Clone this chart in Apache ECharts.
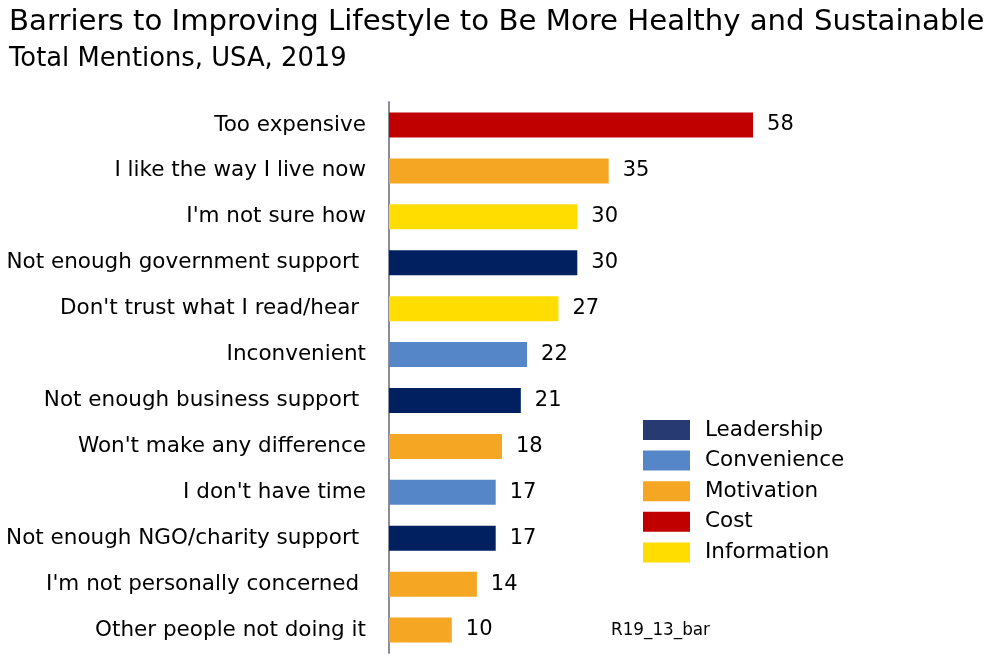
<!DOCTYPE html>
<html><head><meta charset="utf-8">
<script src="https://cdn.jsdelivr.net/npm/echarts@6/dist/echarts.min.js"></script>
<style>html,body{margin:0;padding:0;background:#fff}#c{width:993px;height:656px}</style>
</head><body><div id="c"></div>
<script>
const categories = ["Too expensive","I like the way I live now","I'm not sure how","Not enough government support ","Don't trust what I read/hear ","Inconvenient","Not enough business support ","Won't make any difference","I don't have time","Not enough NGO/charity support ","I'm not personally concerned ","Other people not doing it"];
const values = [58,35,30,30,27,22,21,18,17,17,14,10];
const groups = ["Cost","Motivation","Information","Leadership","Information","Convenience","Leadership","Motivation","Convenience","Leadership","Motivation","Motivation"];
const groupNames = ["Leadership","Convenience","Motivation","Cost","Information"];
const barColors = {Leadership:"#002060",Convenience:"#5587C8",Motivation:"#F5A623",Cost:"#C00000",Information:"#FFDD00"};
const legendColors = {Leadership:"#283A72",Convenience:"#5587C8",Motivation:"#F5A623",Cost:"#C00000",Information:"#FFDD00"};
const FONT = "DejaVu Sans";

const series = groupNames.map(g => ({
  name: g,
  type: 'bar',
  barWidth: 25,
  barGap: '-100%',
  itemStyle: {color: barColors[g]},
  label: {show: true, position: 'right', distance: 14, color: '#000', fontSize: 21, fontFamily: FONT},
  data: values.map((v,i) => groups[i] === g ? v : '-')
}));

const chart = echarts.init(document.getElementById('c'));
chart.setOption({
  animation: false,
  title: [
    {text: 'Barriers to Improving Lifestyle to Be More Healthy and Sustainable', left: 4, top: 3,
     textStyle: {fontSize: 29.2, fontWeight: 'normal', color: '#000', fontFamily: FONT}},
    {text: 'Total Mentions, USA, 2019', left: 4, top: 41,
     textStyle: {fontSize: 25.8, fontWeight: 'normal', color: '#000', fontFamily: FONT}}
  ],
  legend: {
    orient: 'vertical', left: 643, top: 419, padding: 0,
    itemWidth: 47, itemHeight: 20, itemGap: 8.6,
    icon: 'rect',
    data: groupNames.map(g => ({name: g, itemStyle: {color: legendColors[g]}})),
    textStyle: {fontSize: 21.5, lineHeight: 20, color: '#000', fontFamily: FONT, padding: [0,0,0,10]}
  },
  grid: {left: 389, top: 102, width: 376.6, height: 551, containLabel: false},
  xAxis: {type: 'value', min: 0, max: 60, show: false},
  yAxis: {
    type: 'category', data: categories, inverse: true,
    axisLine: {show: true, lineStyle: {color: '#8a8aa0', width: 2}},
    axisTick: {show: false},
    axisLabel: {fontSize: 21.5, color: '#000', fontFamily: FONT, margin: 23}
  },
  graphic: [{type: 'text', left: 611, top: 622, style: {text: 'R19_13_bar', fontSize: 16.8, fill: '#000', fontFamily: FONT}}],
  series: series
});
</script></body></html>
